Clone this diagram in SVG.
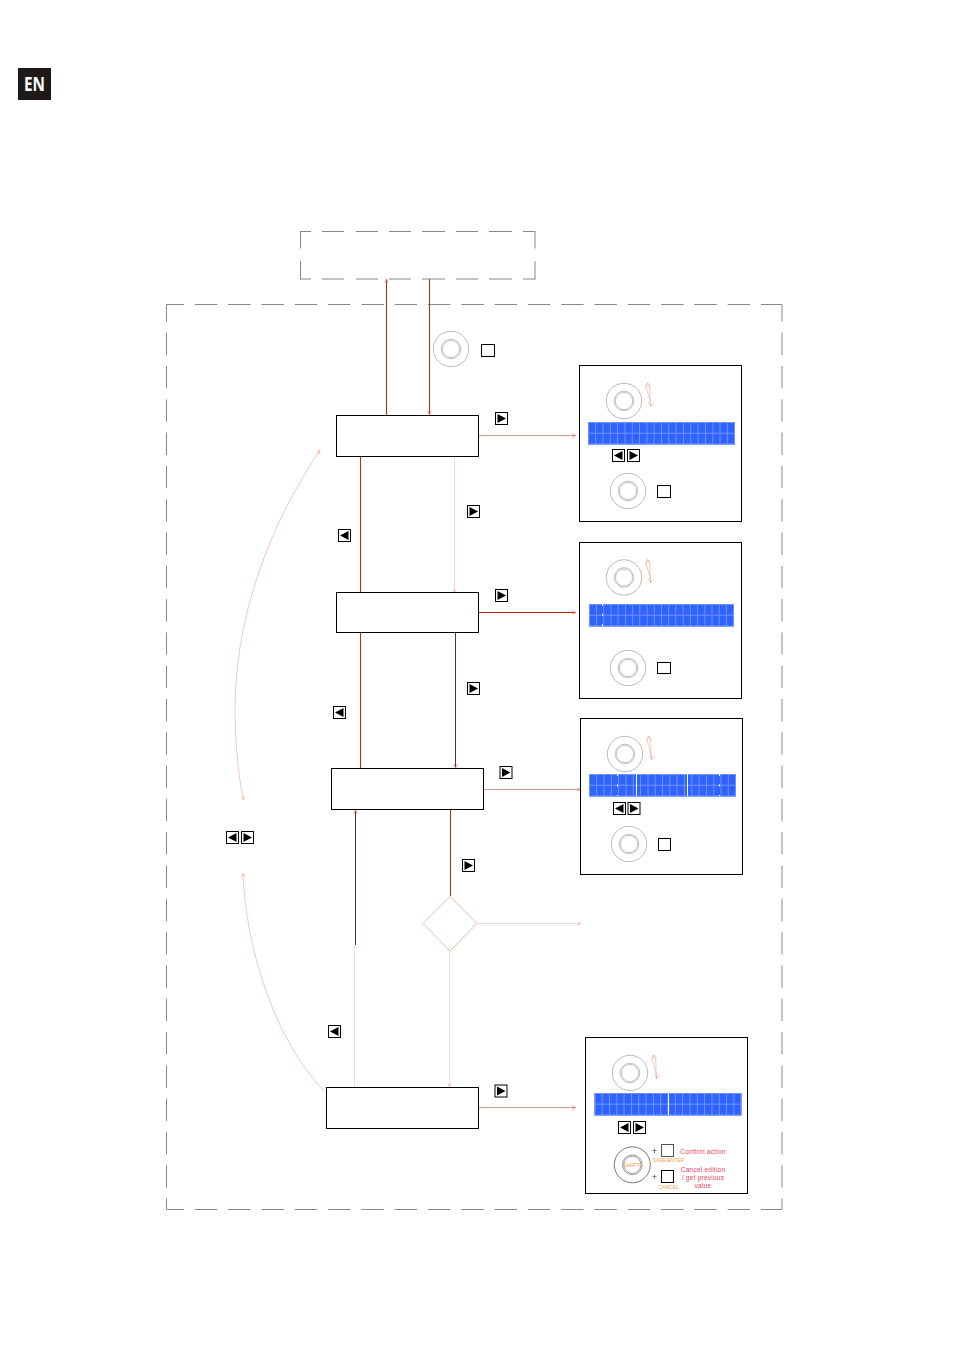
<svg xmlns="http://www.w3.org/2000/svg" xmlns:xlink="http://www.w3.org/1999/xlink" width="954" height="1350" viewBox="0 0 954 1350">
<style>
.box{fill:#fff;stroke:#000;stroke-width:1}
.dash{fill:none;stroke:#888;stroke-width:1}
.d1{stroke-dasharray:22.4 10.9;stroke-dashoffset:11.400}
.d2{stroke-dasharray:22.4 10.9;stroke-dashoffset:4.900}
.d3{stroke-dasharray:17.500 12.500}
.d4{stroke-dasharray:22.4 10.9;stroke-dashoffset:11.400}
.strong{fill:none;stroke:#a83414;stroke-width:1.1}
.dark{fill:none;stroke:#4a3a36;stroke-width:1}
.thin{fill:none;stroke:#b5705c;stroke-width:.7}
.pale{fill:none;stroke:#f0dcd5;stroke-width:1}
.curve{fill:none;stroke:#efb9a8;stroke-width:.8}
.sq{fill:#fff;stroke:#000;stroke-width:1}
.k1{fill:none;stroke:#aaa;stroke-width:.8}
.k2{fill:none;stroke:#aaa;stroke-width:.7}
.red{font-family:"Liberation Sans",Arial,sans-serif;font-size:6.600px;letter-spacing:.2px;fill:#f0455a;text-anchor:middle}
.org{font-family:"Liberation Sans",Arial,sans-serif;font-size:5px;fill:#f5a04a;text-anchor:middle}
.plus{font-family:"Liberation Sans",Arial,sans-serif;font-size:9px;fill:#444;text-anchor:middle}
</style>
<defs>
<marker id="ah" markerWidth="7" markerHeight="6" refX="6" refY="3" orient="auto-start-reverse" markerUnits="userSpaceOnUse"><path d="M2 1.200 6 3 2 4.800" fill="none" stroke="#e0937e" stroke-width=".8"/></marker>
<marker id="ahp" markerWidth="7" markerHeight="6" refX="6" refY="3" orient="auto-start-reverse" markerUnits="userSpaceOnUse"><path d="M2 1.200 6 3 2 4.800" fill="none" stroke="#eeb5a5" stroke-width=".8"/></marker>
<g id="knob"><circle r="17.7" class="k1"/><circle r="8.600" class="k2"/><circle r="9.800" class="k2"/></g>
<g id="updown" fill="none" stroke="#e8a897" stroke-width=".6"><path d="M23.500 -18C20 -10 28 -4 26.500 5.500M21 -12.500 23.500 -18 27 -13.500"/><path d="M24 -18C28 -10 24 -2 27 5.500M24 1 27 5.500 30 1.500"/></g>
<g id="right"><rect x=".5" y=".5" width="12" height="12" class="sq"/><path d="M2.500 2 11 6.500 2.500 11z"/></g>
<g id="left"><rect x=".5" y=".5" width="12" height="12" class="sq"/><path d="M10.500 2 2 6.500 10.500 11z"/></g>
<g id="lcd"><rect width="147" height="22.500" fill="#2f62ff"/><path d="M0 .5H147M0 11.200H147M0 22H147M.5 0V22.500M7.700 0V22.500M15 0V22.500M22.300 0V22.500M29.500 0V22.500M37 0V22.500M44.300 0V22.500M51.500 0V22.500M59 0V22.500M66.200 0V22.500M73.500 0V22.500M80.800 0V22.500M88 0V22.500M95.500 0V22.500M102.800 0V22.500M110 0V22.500M117.500 0V22.500M124.800 0V22.500M132 0V22.500M139.300 0V22.500M146.500 0V22.500" fill="none" stroke="#6d92ff" stroke-width="1"/></g>
</defs>
<rect width="954" height="1350" fill="#fff"/>

<g id="en-badge"><rect x="18" y="68" width="33" height="32" fill="#1f1a17"/><text x="34.500" y="91" font-family="'Open Sans','Liberation Sans',sans-serif" font-weight="700" font-size="19" fill="#fff" text-anchor="middle" textLength="21" lengthAdjust="spacingAndGlyphs">EN</text></g>

<g id="frames">
<path d="M300 231.500H311M322 231.500H344M356 231.500H378M389 231.500H411M422 231.500H445M456 231.500H478M489 231.500H512M523 231.500H535M300 279H311M322 279H344M356 279H378M389 279H411M422 279H445M456 279H478M489 279H512M523 279H535M300.500 231V248.500M300.500 261V279.500M535 231V248.500M535 261V279.500" class="dash"/>
<path d="M166.500 304.500H782" class="dash d2"/>
<path d="M166.500 1209.500H782" class="dash d2"/>
<path d="M166.500 1209.500V304.500" class="dash d1"/>
<path d="M782 1209.500V304.500" class="dash d4"/>
</g>

<g id="connectors">
<path d="M386.500 415V279" class="strong" marker-end="url(#ah)"/>
<path d="M429.500 279V415" class="strong" marker-end="url(#ah)"/>
<path d="M360.500 457V592" class="strong"/>
<path d="M454.500 457V593" class="pale" marker-end="url(#ahp)"/>
<path d="M360.500 633V768" class="strong"/>
<path d="M455.500 633V768" class="dark" marker-end="url(#ah)"/>
<path d="M479 435.500H576" class="thin" marker-end="url(#ah)"/>
<path d="M479 612.500H576" class="strong" marker-end="url(#ah)"/>
<path d="M484 789.500H581" class="thin" marker-end="url(#ah)"/>
<path d="M479 1107.500H576" class="thin" marker-end="url(#ah)"/>
<path d="M450.500 810V896" class="strong"/>
<path d="M477 923.500H581" class="pale" marker-end="url(#ahp)"/>
<path d="M449.500 951V1087" class="pale" marker-end="url(#ahp)"/>
<path d="M355.500 945V810" class="dark" marker-end="url(#ah)"/>
<path d="M354.500 1087V945" class="pale"/>
<path d="M320 450C280 510 236 600 235 707C235 740 238 775 243.500 800" class="curve" marker-start="url(#ahp)" marker-end="url(#ahp)"/>
<path d="M243 873C246 950 275 1040 324 1091" class="curve" marker-start="url(#ahp)"/>
</g>

<g id="node-1"><rect x="336.500" y="415.500" width="142" height="41" class="box"/></g>
<g id="node-2"><rect x="336.500" y="592.500" width="142" height="40" class="box"/></g>
<g id="node-3"><rect x="331.500" y="768.500" width="152" height="41" class="box"/></g>
<g id="node-4"><rect x="326.500" y="1087.500" width="152" height="41" class="box"/></g>
<g id="decision"><path d="M450 896.500 477 923.500 450 951 423 923.500Z" fill="#fff" stroke="#e2a796" stroke-width=".8"/></g>

<g id="entry-control">
<use href="#knob" x="451" y="349"/>
<rect x="481.500" y="344.500" width="13" height="12" class="sq"/>
</g>

<g id="nav-buttons">
<use href="#right" x="495" y="412"/>
<use href="#right" x="467" y="505"/>
<use href="#right" x="495" y="589"/>
<use href="#right" x="467" y="682"/>
<use href="#right" x="499.500" y="766"/>
<use href="#right" x="462" y="859"/>
<use href="#right" x="494.500" y="1084.500"/>
<use href="#left" x="338" y="529"/>
<use href="#left" x="333" y="706"/>
<use href="#left" x="328" y="1025"/>
<use href="#left" x="226" y="831"/>
<use href="#right" x="241" y="831"/>
</g>

<g id="panel-1">
<rect x="579.500" y="365.500" width="162" height="156" class="box"/>
<use href="#knob" x="624" y="401"/><use href="#updown" x="624" y="401"/>
<use href="#lcd" x="588" y="422"/>
<use href="#left" x="612" y="449"/><use href="#right" x="627" y="449"/>
<use href="#knob" x="628" y="491"/>
<rect x="657.500" y="485.500" width="13" height="12" class="sq"/>
</g>

<g id="panel-2">
<rect x="579.500" y="542.500" width="162" height="156" class="box"/>
<use href="#knob" x="624" y="577.500"/><use href="#updown" x="624" y="577.500"/>
<g transform="translate(589 604) scale(.986 1)"><use href="#lcd"/></g>
<path d="M602.500 604V626" stroke="#fff" stroke-width="1" stroke-dasharray="2 8"/>
<use href="#knob" x="628" y="668"/>
<rect x="657.500" y="662.500" width="13" height="11" class="sq"/>
</g>

<g id="panel-3">
<rect x="580.500" y="718.500" width="162" height="156" class="box"/>
<use href="#knob" x="625" y="754"/><use href="#updown" x="625" y="754"/>
<use href="#lcd" x="589" y="774"/>
<path d="M617.500 774V796M719.500 774V796" stroke="#fff" stroke-width="1" stroke-dasharray="2 8.500"/>
<path d="M636.500 774V796M687.500 774V796" stroke="#fff" stroke-width="1"/>
<use href="#left" x="613" y="802"/><use href="#right" x="627.500" y="802"/>
<use href="#knob" x="629" y="844"/>
<rect x="658.500" y="838.500" width="12" height="12" class="sq"/>
</g>

<g id="panel-4">
<rect x="585.500" y="1037.500" width="162" height="156" class="box"/>
<use href="#knob" x="630" y="1073"/><use href="#updown" x="630" y="1073"/>
<use href="#lcd" x="594.500" y="1093"/>
<path d="M668.500 1093V1115" stroke="#fff" stroke-width="1"/>
<use href="#left" x="618" y="1121"/><use href="#right" x="633" y="1121"/>
<circle cx="632.300" cy="1164.800" r="18" fill="none" stroke="#555" stroke-width=".8"/>
<circle cx="632.300" cy="1164.800" r="8.600" fill="none" stroke="#888" stroke-width=".8"/>
<circle cx="632.300" cy="1164.800" r="9.900" fill="none" stroke="#888" stroke-width=".8"/>
<text x="632" y="1167" class="org" style="font-size:6px">SHIFT</text>
<text x="654.500" y="1154" class="plus">+</text>
<text x="654.500" y="1179.500" class="plus">+</text>
<rect x="661.500" y="1144.500" width="12" height="12" class="sq" style="stroke:#555"/>
<rect x="661.500" y="1170.500" width="12" height="12" class="sq"/>
<text x="668.500" y="1161.500" class="org" style="font-size:5px">SAVE/ENTER</text>
<text x="668.700" y="1188.500" class="org">CANCEL</text>
<text x="703" y="1154" class="red">Confirm action</text>
<text x="703" y="1171.500" class="red">Cancel edition</text>
<text x="703" y="1180" class="red">/ get previous</text>
<text x="703" y="1187.500" class="red">value</text>
</g>
</svg>
